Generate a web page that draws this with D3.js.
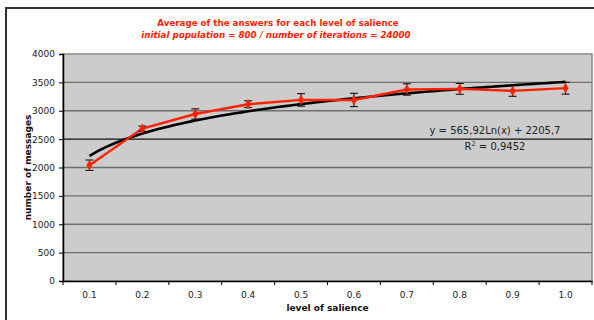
<!DOCTYPE html>
<html>
<head>
<meta charset="utf-8">
<script src="https://cdn.jsdelivr.net/npm/d3@7"></script>
<style>
  html, body { margin: 0; padding: 0; background: #fff; }
  svg { display: block; font-family: "DejaVu Sans", Verdana, sans-serif; }
</style>
</head>
<body>
<svg id="chart" width="594" height="320"></svg>
<script>
// Salience levels and mean message counts with their error margins
const categories = ["0.1", "0.2", "0.3", "0.4", "0.5", "0.6", "0.7", "0.8", "0.9", "1.0"];
const means = [2040, 2685, 2943, 3115, 3191, 3190, 3375, 3386, 3350, 3398];
const errors = [92, 45, 90, 60, 110, 118, 100, 95, 95, 105];
const yTicks = [0, 500, 1000, 1500, 2000, 2500, 3000, 3500, 4000];
// Logarithmic trend fitted on the category index: y = a*ln(x) + b
const trendA = 565.92;
const trendB = 2205.7;
const trendLabel = "y = 565,92Ln(x) + 2205,7";
const r2Label = "0,9452";

const svg = d3.select("#chart");
const plot = { left: 63, right: 592, top: 54, bottom: 281 };

// chart frame
svg.append("rect")
  .attr("x", 6).attr("y", 8).attr("width", 640).attr("height", 400)
  .attr("fill", "#fff").attr("stroke", "#333").attr("stroke-width", 2);

const x = d3.scaleBand().domain(categories).range([plot.left, plot.right]);
const y = d3.scaleLinear().domain([0, 4000]).range([plot.bottom, plot.top]);

// plot area
svg.append("rect")
  .attr("x", plot.left).attr("y", plot.top)
  .attr("width", plot.right - plot.left).attr("height", plot.bottom - plot.top)
  .attr("fill", "#cccccc").attr("stroke", "#8a8a8a").attr("stroke-width", 1.5);

// horizontal gridlines
svg.append("g").selectAll("line")
  .data(yTicks.filter(d => d > 0 && d < 4000))
  .join("line")
  .attr("x1", plot.left).attr("x2", plot.right)
  .attr("y1", d => y(d)).attr("y2", d => y(d))
  .attr("stroke", d => d === 2500 ? "#111" : "#6e6e6e")
  .attr("stroke-width", d => d === 2500 ? 1.2 : 1.4);

// axes
const yAxis = svg.append("g")
  .attr("transform", `translate(${plot.left},0)`)
  .call(d3.axisLeft(y).tickValues(yTicks).tickSize(4).tickPadding(4).tickFormat(d3.format("d")));
const xAxis = svg.append("g")
  .attr("transform", `translate(0,${plot.bottom})`)
  .call(d3.axisBottom(x).tickSize(0).tickPadding(11));
[yAxis, xAxis].forEach(g => {
  g.select(".domain").attr("stroke", "#000").attr("stroke-width", 1.5);
  g.selectAll(".tick line").attr("stroke", "#000");
  g.selectAll("text").attr("font-size", 9).attr("fill", "#222")
    .attr("font-family", "DejaVu Sans, Verdana, sans-serif");
});
// category boundary ticks on the x axis
const bounds = categories.map(c => x(c)).concat([x(categories[categories.length - 1]) + x.bandwidth()]);
svg.append("g").selectAll("line").data(bounds).join("line")
  .attr("x1", d => d).attr("x2", d => d)
  .attr("y1", plot.bottom).attr("y2", plot.bottom + 4)
  .attr("stroke", "#000").attr("stroke-width", 1);

const cx = c => x(c) + x.bandwidth() / 2;

// logarithmic trendline
const trendPts = d3.range(0, 9.001, 0.1).map(t => {
  const xi = 1 + t;
  const px = cx(categories[0]) + t * x.step();
  return [px, y(trendA * Math.log(xi) + trendB)];
});
svg.append("path")
  .attr("d", d3.line()(trendPts))
  .attr("fill", "none").attr("stroke", "#000").attr("stroke-width", 2.6);

// mean series
svg.append("path")
  .datum(categories)
  .attr("d", d3.line().x(c => cx(c)).y((c, i) => y(means[i])))
  .attr("fill", "none").attr("stroke", "#ff2200").attr("stroke-width", 2.4);

// error bars
const eb = svg.append("g").attr("stroke", "#000").attr("stroke-width", 1);
categories.forEach((c, i) => {
  const px = cx(c);
  const top = y(means[i] + errors[i]);
  const bot = y(means[i] - errors[i]);
  eb.append("line").attr("x1", px).attr("x2", px).attr("y1", top).attr("y2", bot);
  eb.append("line").attr("x1", px - 4).attr("x2", px + 4).attr("y1", top).attr("y2", top);
  eb.append("line").attr("x1", px - 4).attr("x2", px + 4).attr("y1", bot).attr("y2", bot);
});

// diamond markers
svg.append("g").selectAll("path").data(categories).join("path")
  .attr("transform", (c, i) => `translate(${cx(c)},${y(means[i])})`)
  .attr("d", d3.symbol().type(d3.symbolDiamond).size(26))
  .attr("fill", "#ff2200").attr("stroke", "#ff2200").attr("stroke-width", 0.6);

// title
svg.append("text")
  .attr("x", 278).attr("y", 26).attr("text-anchor", "middle")
  .attr("font-size", 8.7).attr("font-weight", "bold").attr("fill", "#ff2200")
  .text("Average of the answers for each level of salience");
svg.append("text")
  .attr("x", 276).attr("y", 38).attr("text-anchor", "middle")
  .attr("font-size", 8.7).attr("font-weight", "bold").attr("font-style", "italic").attr("fill", "#ff2200")
  .text("initial population = 800 / number of iterations = 24000");

// trendline equation
svg.append("text")
  .attr("x", 495).attr("y", 134).attr("text-anchor", "middle")
  .attr("font-size", 10).attr("fill", "#222")
  .text(trendLabel);
const r2 = svg.append("text")
  .attr("x", 495).attr("y", 150).attr("text-anchor", "middle")
  .attr("font-size", 10).attr("fill", "#222");
r2.append("tspan").text("R");
r2.append("tspan").attr("dy", -4).attr("font-size", 6.5).text("2");
r2.append("tspan").attr("dy", 4).text(" = " + r2Label);

// axis titles
svg.append("text")
  .attr("transform", `translate(31,${(plot.top + plot.bottom) / 2}) rotate(-90)`)
  .attr("text-anchor", "middle").attr("font-size", 9).attr("font-weight", "bold").attr("fill", "#111")
  .text("number of messages");
svg.append("text")
  .attr("x", (plot.left + plot.right) / 2).attr("y", 311).attr("text-anchor", "middle")
  .attr("font-size", 9).attr("font-weight", "bold").attr("fill", "#111")
  .text("level of salience");
</script>
</body>
</html>
